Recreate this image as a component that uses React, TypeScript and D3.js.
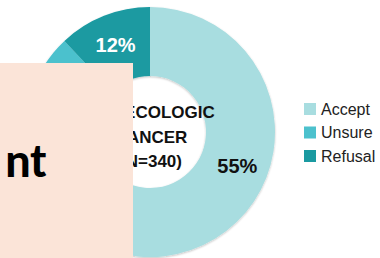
import React from "react";
import * as d3 from "d3";

const categories = ["Accept", "Unsure", "Refusal"];
const values = [55, 33, 12];
const labels = ["55%", "", "12%"];
const labelFraction = [0.56, 0.5, 0.5];
const labelColors = ["#111", "#fff", "#fff"];
const colors = ["#a8dde0", "#4cc1cd", "#1a9aa1"];
const centerLines = ["GYNECOLOGIC", "CANCER", "(N=340)"];
const boxText = "nt";
const boxText2 = "in t";

const W = 380;
const H = 258;

export default function App() {
  const cx = 150;
  const cy = 132;
  const R = 125;
  const r = 56;
  const pie = d3.pie<number>().sort(null).value((d) => d);
  const arcs = pie(values);
  const arc = d3.arc<d3.PieArcDatum<number>>().innerRadius(r).outerRadius(R);
  const labelR = (R + r) / 2 + 3;

  const legendY = d3.scalePoint<string>().domain(categories).range([109, 156]);

  const lineY = d3.scalePoint<string>().domain(centerLines).range([118, 167]);

  return (
    <svg
      width={W}
      height={H}
      style={{ position: "absolute", left: 0, top: 0, background: "#fff" }}
      fontFamily="'Liberation Sans', Arial, sans-serif"
    >
      <defs>
        <filter id="sh" x="-10%" y="-10%" width="120%" height="120%">
          <feGaussianBlur in="SourceAlpha" stdDeviation="1.2" />
          <feOffset dx="0" dy="0.5" result="b" />
          <feComponentTransfer>
            <feFuncA type="linear" slope="0.25" />
          </feComponentTransfer>
          <feMerge>
            <feMergeNode />
            <feMergeNode in="SourceGraphic" />
          </feMerge>
        </filter>
      </defs>
      <g transform={`translate(${cx},${cy})`}>
        <g filter="url(#sh)">
          {arcs.map((a, i) => (
            <path key={i} d={arc(a) || ""} fill={colors[i]} />
          ))}
        </g>
        {arcs.map((a, i) => {
          if (!labels[i]) return null;
          const ang = a.startAngle + (a.endAngle - a.startAngle) * labelFraction[i];
          const x = Math.sin(ang) * labelR;
          const y = -Math.cos(ang) * labelR;
          return (
            <text
              key={i}
              x={x}
              y={y}
              dy="0.36em"
              textAnchor="middle"
              fontSize={20}
              fontWeight="bold"
              fill={labelColors[i]}
            >
              {labels[i]}
            </text>
          );
        })}
        {centerLines.map((t) => (
          <text
            key={t}
            x={1}
            y={(lineY(t) as number) - cy}
            textAnchor="middle"
            fontSize={17}
            fontWeight="bold"
            fill="#111"
          >
            {t}
          </text>
        ))}
      </g>
      {categories.map((c, i) => (
        <g key={c} transform={`translate(304,${legendY(c)})`}>
          <rect x={0} y={-6} width={12} height={12} fill={colors[i]} />
          <text x={17} y={0} dy="0.36em" fontSize={16} fill="#222">
            {c}
          </text>
        </g>
      ))}
      <rect x={0} y={63} width={133} height={H - 63} fill="#fbe4d8" />
      <text
        x={47}
        y={177}
        textAnchor="end"
        fontSize={48}
        fontWeight="bold"
        fill="#000"
        fontFamily="Carlito, 'Liberation Sans', Arial, sans-serif"
      >
        {boxText}
      </text>
      <text
        x={14}
        y={293}
        fontSize={46}
        fontWeight="bold"
        fill="#000"
      >
        {boxText2}
      </text>
    </svg>
  );
}
